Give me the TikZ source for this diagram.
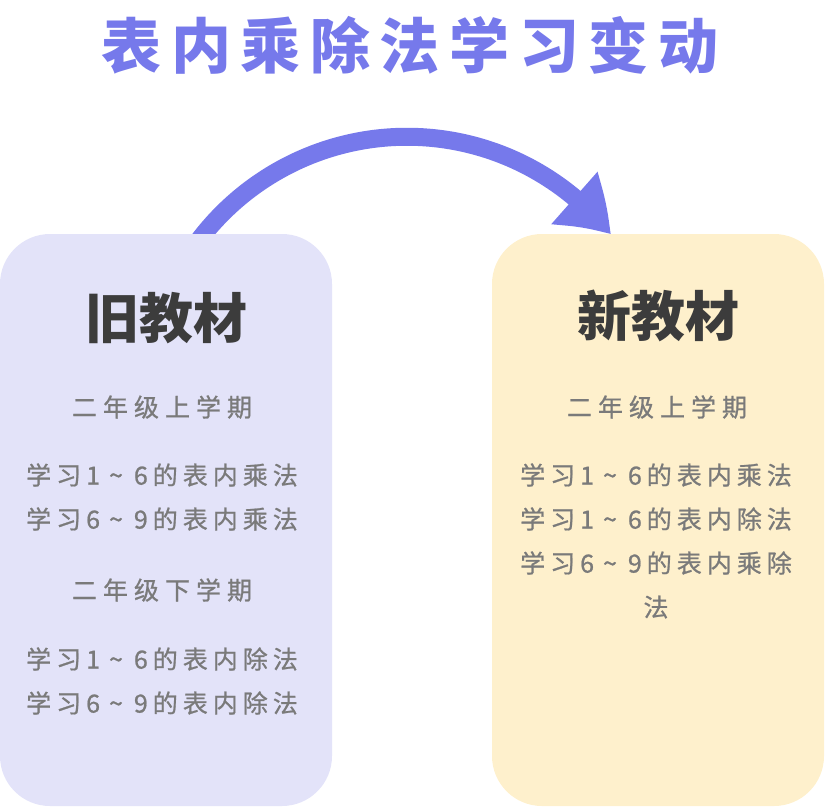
\documentclass[tikz,border=0pt]{standalone}
\usepackage{fontspec}
\usetikzlibrary{arrows.meta,bending,backgrounds,positioning}
\newfontfamily\cjk{Noto Sans CJK SC}
\newfontfamily\cjkgap[LetterSpace=20,FakeBold=0.8]{Noto Sans CJK SC}
\newfontfamily\cjkterm[LetterSpace=24,FakeBold=0.8]{Noto Sans CJK SC}
\newfontfamily\cjktitle[LetterSpace=16]{Noto Sans CJK SC}
\definecolor{arcblue}{HTML}{7679EB}
\definecolor{oldbg}{HTML}{E3E3F9}
\definecolor{newbg}{HTML}{FEF0CC}
\definecolor{headgray}{HTML}{3C3C3C}
\definecolor{itemgray}{HTML}{7A7A7A}
\tikzset{
  panel/.style={rounded corners=50pt, minimum width=332pt, minimum height=572pt, inner sep=0pt},
  oldpanel/.style={panel, fill=oldbg},
  newpanel/.style={panel, fill=newbg},
  heading/.style={font=\cjk\bfseries\fontsize{54}{60}\selectfont, text=headgray, inner sep=0pt},
  term/.style={font=\cjkterm\fontsize{25}{28}\selectfont, text=itemgray, inner sep=0pt},
  item/.style={font=\cjkgap\fontsize{25}{28}\selectfont, text=itemgray, inner sep=0pt},
  flow/.style={draw=arcblue, line width=18pt, -{Triangle[length=52pt,width=66pt,bend]}},
}
\newcommand{\wv}{\kern9pt\textasciitilde\kern11pt}

\begin{document}
\begin{tikzpicture}[x=1pt,y=-1pt]
  \useasboundingbox (0,0) rectangle (826,808);
  % title
  \node[font=\cjktitle\bfseries\fontsize{60}{66}\selectfont, text=arcblue, inner sep=0pt] (title) at (410,45) {表内乘除法学习变动};
  % two panels
  \node[oldpanel] (old) at (166,520) {};
  \node[newpanel] (new) at (658,520) {};
  \begin{scope}[on background layer]
    \draw[flow] ([shift={(24.6,18)}]old.north) arc[start angle=-146, end angle=-38.7, radius=261];
  \end{scope}
  % old book
  \node[heading] (oldhead) at (166,318) {旧教材};
  \node[term] (oldterm1) at (162,407) {二年级上学期};
  \node[item] (olda) at (162,475) {学习1\wv6的表内乘法};
  \node[item] (oldb) at (162,519) {学习6\wv9的表内乘法};
  \node[term] (oldterm2) at (162,590) {二年级下学期};
  \node[item] (oldc) at (162,659) {学习1\wv6的表内除法};
  \node[item] (oldd) at (162,703) {学习6\wv9的表内除法};
  % new book
  \node[heading] (newhead) at (658,316) {新教材};
  \node[term] (newterm) at (657,407) {二年级上学期};
  \node[item] (newa) at (656,475) {学习1\wv6的表内乘法};
  \node[item] (newb) at (656,519) {学习1\wv6的表内除法};
  \node[item] (newc) at (656,563) {学习6\wv9的表内乘除};
  \node[item] (newd) at (656,607) {法};
\end{tikzpicture}
\end{document}
